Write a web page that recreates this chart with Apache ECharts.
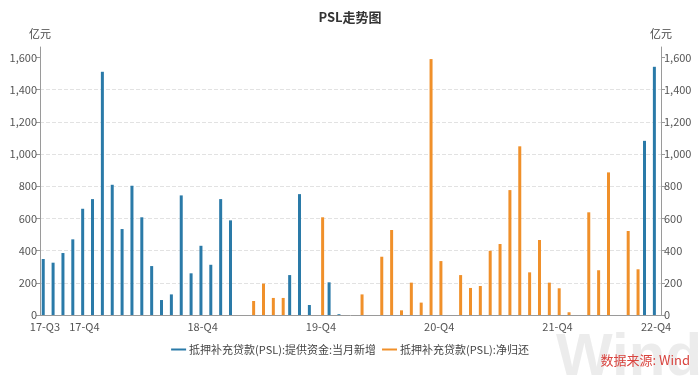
<!DOCTYPE html>
<html>
<head>
<meta charset="utf-8">
<script src="https://cdn.jsdelivr.net/npm/echarts@6/dist/echarts.min.js"></script>
<style>
  html, body { margin: 0; padding: 0; background: #fff; }
  #chart { width: 700px; height: 376px; }
</style>
</head>
<body>
<div id="chart"></div>
<script>
// monthly categories, Aug 2017 .. Oct 2022
const months = [
  '2017-08', '2017-09', '2017-10', '2017-11', '2017-12',
  '2018-01', '2018-02', '2018-03', '2018-04', '2018-05', '2018-06',
  '2018-07', '2018-08', '2018-09', '2018-10', '2018-11', '2018-12',
  '2019-01', '2019-02', '2019-03', '2019-04', '2019-05', '2019-06',
  '2019-07', '2019-08', '2019-09', '2019-10', '2019-11', '2019-12',
  '2020-01', '2020-02', '2020-03', '2020-04', '2020-05', '2020-06',
  '2020-07', '2020-08', '2020-09', '2020-10', '2020-11', '2020-12',
  '2021-01', '2021-02', '2021-03', '2021-04', '2021-05', '2021-06',
  '2021-07', '2021-08', '2021-09', '2021-10', '2021-11', '2021-12',
  '2022-01', '2022-02', '2022-03', '2022-04', '2022-05', '2022-06',
  '2022-07', '2022-08', '2022-09', '2022-10'
];

// x axis tick labels
const tickLabels = {
  '2017-08': '17-Q3',
  '2017-12': '17-Q4',
  '2018-12': '18-Q4',
  '2019-12': '19-Q4',
  '2020-12': '20-Q4',
  '2021-12': '21-Q4',
  '2022-10': '22-Q4'
};

// 抵押补充贷款(PSL):提供资金:当月新增, 亿元
const supply = [
  348, 325, 385, 470, 660,
  720, 1511, 809, 534, 803, 607,
  304, 93, 128, 743, 259, 430,
  312, 720, 588, null, null, null,
  null, null, 248, 751, 62, null,
  203, 5, null, null, null, null,
  null, null, null, null, null, null,
  null, null, null, null, null, null,
  null, null, null, null, null, null,
  null, null, null, null, null, null,
  null, null, 1082, 1542
];

// 抵押补充贷款(PSL):净归还, 亿元
const repay = [
  null, null, null, null, null,
  null, null, null, null, null, null,
  null, null, null, null, null, null,
  null, null, null, null, 87, 195,
  106, 106, null, null, null, 607,
  null, null, null, 128, null, 362,
  528, 29, 201, 77, 1590, 335,
  null, 248, 168, 180, 399, 441,
  776, 1048, 265, 466, 201, 166,
  17, null, 638, 278, 886, null,
  522, 284, null, null
];

const yTicks = [0, 200, 400, 600, 800, 1000, 1200, 1400, 1600];

const chart = echarts.init(document.getElementById('chart'));

const font = '"Noto Sans CJK SC", "Noto Sans", sans-serif';
const axisGray = '#9a9a9a';

function yAxis(pos) {
  return {
    type: 'value',
    position: pos,
    min: 0,
    max: 1665,
    name: '亿元',
    nameLocation: 'end',
    nameGap: 8,
    nameTextStyle: { color: '#444', fontSize: 11, fontFamily: font },
    axisLine: { show: true, lineStyle: { color: axisGray } },
    axisTick: { show: true, length: 4, customValues: yTicks, lineStyle: { color: axisGray } },
    axisLabel: {
      customValues: yTicks,
      color: '#555',
      fontSize: 11,
      fontFamily: font,
      margin: 3,
      formatter: v => v.toLocaleString('en-US')
    },
    splitLine: pos === 'left'
      ? { show: true, showMaxLine: false, lineStyle: { color: '#e2e2e2', type: 'dashed' } }
      : { show: false }
  };
}

chart.setOption({
  animation: false,
  textStyle: { fontFamily: font },
  title: {
    text: 'PSL走势图',
    left: 'center',
    top: 6,
    textStyle: { fontSize: 13, fontWeight: 'bold', color: '#333', fontFamily: font }
  },
  legend: {
    bottom: 16,
    left: 'center',
    icon: 'rect',
    itemWidth: 15,
    itemHeight: 2,
    itemGap: 6,
    textStyle: { fontSize: 11, color: '#444', fontFamily: font, padding: [0, 0, 0, -2] },
    data: ['抵押补充贷款(PSL):提供资金:当月新增', '抵押补充贷款(PSL):净归还']
  },
  grid: { left: 40, right: 39, top: 47, bottom: 61 },
  xAxis: {
    type: 'category',
    data: months,
    axisLine: { lineStyle: { color: axisGray } },
    axisTick: {
      alignWithLabel: true,
      length: 5,
      interval: (i, v) => v in tickLabels,
      lineStyle: { color: axisGray }
    },
    axisLabel: {
      interval: (i, v) => v in tickLabels,
      formatter: v => tickLabels[v] || '',
      color: '#555',
      fontSize: 11,
      fontFamily: font,
      margin: 6
    }
  },
  yAxis: [yAxis('left'), yAxis('right')],
  series: [
    {
      name: '抵押补充贷款(PSL):提供资金:当月新增',
      type: 'bar',
      data: supply,
      barWidth: 3,
      barGap: '13%',
      itemStyle: { color: '#2a7aa8' }
    },
    {
      name: '抵押补充贷款(PSL):净归还',
      type: 'bar',
      data: repay,
      barWidth: 3,
      barGap: '13%',
      itemStyle: { color: '#f0902a' }
    }
  ],
  graphic: [
    {
      type: 'text',
      left: 556,
      top: 328,
      z: -1,
      style: {
        text: 'Wind',
        font: 'bold 60px "Liberation Sans", Arial, sans-serif',
        fill: 'rgba(200,200,200,0.35)'
      }
    },
    {
      type: 'text',
      right: 10,
      top: 354,
      style: {
        text: '数据来源: Wind',
        font: '13px "Noto Sans CJK SC", sans-serif',
        fill: '#d9443f'
      }
    }
  ]
});
</script>
</body>
</html>
